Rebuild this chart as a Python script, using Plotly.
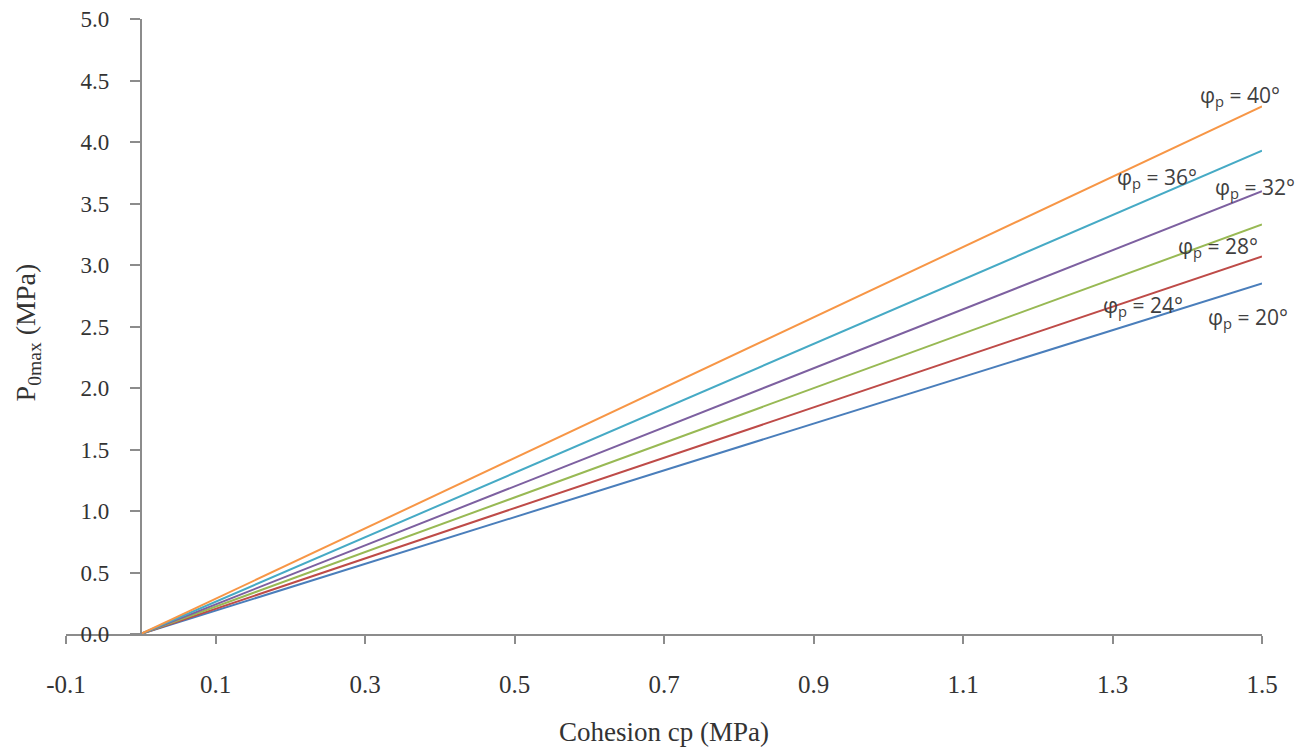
import plotly.graph_objects as go

# Cohesion values (MPa) and maximum support pressure P0max (MPa) per friction angle
cohesion = [0.0, 1.5]
angles = ["20", "24", "28", "32", "36", "40"]
p0max = {
    "20": [0.0, 2.85],
    "24": [0.0, 3.07],
    "28": [0.0, 3.33],
    "32": [0.0, 3.60],
    "36": [0.0, 3.93],
    "40": [0.0, 4.29],
}
colors = {
    "20": "#4A7EBB",
    "24": "#BE4B48",
    "28": "#98B954",
    "32": "#7D60A0",
    "36": "#46AAC5",
    "40": "#F79646",
}
# label anchor points (data coords)
label_pos = {
    "20": (1.481, 2.57),
    "24": (1.341, 2.67),
    "28": (1.441, 3.15),
    "32": (1.491, 3.63),
    "36": (1.360, 3.71),
    "40": (1.471, 4.37),
}
x_ticks = [-0.1, 0.1, 0.3, 0.5, 0.7, 0.9, 1.1, 1.3, 1.5]
y_ticks = [0.0, 0.5, 1.0, 1.5, 2.0, 2.5, 3.0, 3.5, 4.0, 4.5, 5.0]

serif = "Liberation Serif"
axis_col = "#8C8C8C"
text_col = "#404040"

fig = go.Figure()
for a in angles:
    fig.add_trace(go.Scatter(
        x=cohesion, y=p0max[a], mode="lines",
        line=dict(color=colors[a], width=2),
        name=f"φp = {a}°", showlegend=False,
    ))
    lx, ly = label_pos[a]
    fig.add_annotation(
        x=lx, y=ly, xref="x", yref="y",
        text=f"φ<sub>p</sub> = {a}°", showarrow=False,
        font=dict(family="Open Sans", size=21, color=text_col),
        xanchor="center", yanchor="middle",
    )

fig.update_xaxes(
    range=[-0.1, 1.5], domain=[0, 1], automargin=False,
    tickvals=x_ticks, ticktext=[f"{v:.1f}" for v in x_ticks],
    showline=True, linecolor=axis_col, linewidth=2,
    ticks="outside", ticklen=8, tickcolor=axis_col, tickwidth=2,
    ticklabelstandoff=19,
    showgrid=False, zeroline=False,
    tickfont=dict(family=serif, size=25, color="#333333"),
)
fig.update_yaxes(
    range=[0, 5], anchor="free", position=0.1 / 1.6, automargin=False,
    tickvals=y_ticks, ticktext=[f"{v:.1f}" for v in y_ticks],
    showline=True, linecolor=axis_col, linewidth=2,
    ticks="outside", ticklen=10, tickcolor=axis_col, tickwidth=2,
    ticklabelstandoff=16,
    showgrid=False, zeroline=False,
    tickfont=dict(family=serif, size=23, color="#333333"),
)

fig.add_annotation(
    x=0.5, y=-0.160, xref="paper", yref="paper",
    text="Cohesion cp (MPa)", showarrow=False,
    font=dict(family=serif, size=27, color="#333333"),
    xanchor="center", yanchor="middle",
)
fig.add_annotation(
    x=-0.032, y=0.49, xref="paper", yref="paper",
    text="P<sub>0max</sub> (MPa)", showarrow=False, textangle=-90,
    font=dict(family=serif, size=28, color="#333333"),
    xanchor="center", yanchor="middle",
)

fig.update_layout(
    width=1314, height=749,
    margin=dict(l=66, r=52, t=19, b=115),
    plot_bgcolor="white", paper_bgcolor="white",
)

fig.write_html("out.html")
